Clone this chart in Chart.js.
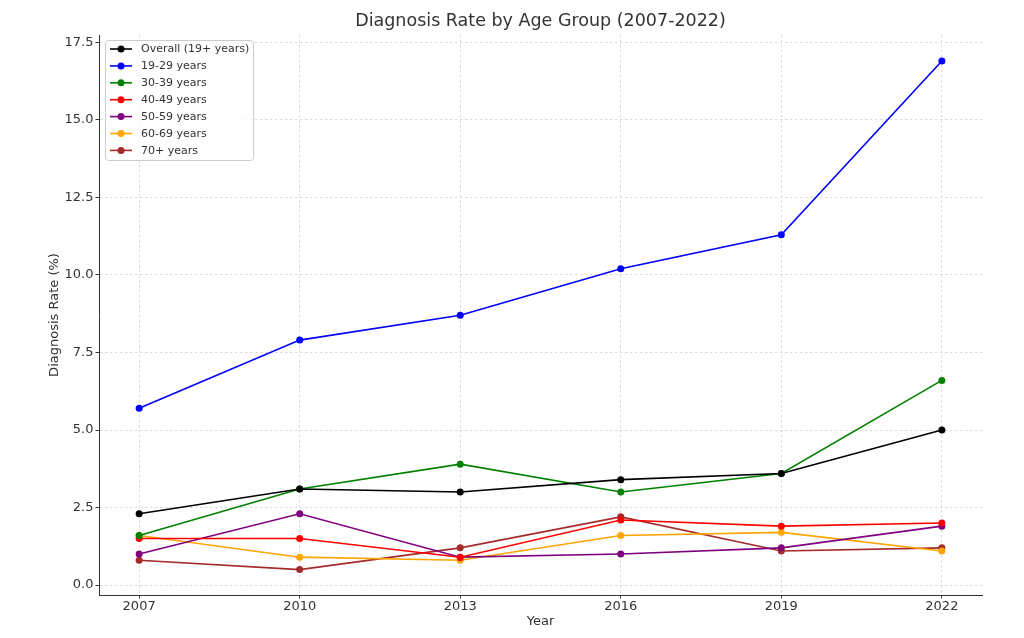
<!DOCTYPE html>
<html>
<head>
<meta charset="utf-8">
<script src="https://cdn.jsdelivr.net/npm/chart.js@4/dist/chart.umd.min.js"></script>
<style>
  html, body { margin: 0; padding: 0; background: #fff; }
  #wrap { width: 1024px; height: 638px; }
</style>
</head>
<body>
<div id="wrap"><canvas id="lineChart" width="1024" height="638"></canvas></div>
<script>
// data
var years = [2007, 2010, 2013, 2016, 2019, 2022];
var overall = [2.3, 3.1, 3.0, 3.4, 3.6, 5.0];
var age19to29 = [5.7, 7.9, 8.7, 10.2, 11.3, 16.9];
var age30to39 = [1.6, 3.1, 3.9, 3.0, 3.6, 6.6];
var age40to49 = [1.5, 1.5, 0.9, 2.1, 1.9, 2.0];
var age50to59 = [1.0, 2.3, 0.9, 1.0, 1.2, 1.9];
var age60to69 = [1.6, 0.9, 0.8, 1.6, 1.7, 1.1];
var age70plus = [0.8, 0.5, 1.2, 2.2, 1.1, 1.2];
var seriesNames = ['Overall (19+ years)', '19-29 years', '30-39 years', '40-49 years', '50-59 years', '60-69 years', '70+ years'];
var seriesColors = ['#000000', '#0000ff', '#008000', '#ff0000', '#800080', '#ffa500', '#a52a2a'];
var yTicks = [0.0, 2.5, 5.0, 7.5, 10.0, 12.5, 15.0, 17.5];

var FONT = "'DejaVu Sans', sans-serif";
var TXT = '#333333';

function makeSet(i, vals) {
  return {
    label: seriesNames[i],
    data: years.map(function(y, k) { return {x: y, y: vals[k]}; }),
    borderColor: seriesColors[i],
    backgroundColor: seriesColors[i],
    borderWidth: 1.6,
    pointRadius: 3.5,
    pointHoverRadius: 3.5,
    pointBorderWidth: 0,
    tension: 0
  };
}

var allSeries = [overall, age19to29, age30to39, age40to49, age50to59, age60to69, age70plus];

// title, axis labels and legend box drawn by hand, matplotlib style
var extras = {
  id: 'extras',
  afterDraw: function(chart) {
    var ctx = chart.ctx, a = chart.chartArea;
    ctx.save();
    ctx.fillStyle = TXT;
    ctx.textAlign = 'center';
    ctx.textBaseline = 'middle';
    ctx.font = '17.5px ' + FONT;
    ctx.fillText('Diagnosis Rate by Age Group (2007-2022)', (a.left + a.right) / 2, 21);
    ctx.font = '13px ' + FONT;
    ctx.fillText('Year', (a.left + a.right) / 2, 622);
    ctx.save();
    ctx.translate(55, (a.top + a.bottom) / 2);
    ctx.rotate(-Math.PI / 2);
    ctx.fillText('Diagnosis Rate (%)', 0, 0);
    ctx.restore();

    // legend
    var bx = a.left + 6, by = a.top + 5, bw = 148, bh = 120;
    ctx.fillStyle = 'rgba(255,255,255,0.8)';
    ctx.strokeStyle = '#cccccc';
    ctx.lineWidth = 1;
    ctx.beginPath();
    ctx.roundRect(bx + 0.5, by + 0.5, bw, bh, 3);
    ctx.fill();
    ctx.stroke();
    ctx.font = '11px ' + FONT;
    ctx.textAlign = 'left';
    for (var i = 0; i < seriesNames.length; i++) {
      var yy = by + 9 + i * 16.9;
      ctx.strokeStyle = seriesColors[i];
      ctx.lineWidth = 1.6;
      ctx.beginPath();
      ctx.moveTo(bx + 5, yy);
      ctx.lineTo(bx + 27, yy);
      ctx.stroke();
      ctx.fillStyle = seriesColors[i];
      ctx.beginPath();
      ctx.arc(bx + 16, yy, 3.5, 0, Math.PI * 2);
      ctx.fill();
      ctx.fillStyle = TXT;
      ctx.fillText(seriesNames[i], bx + 36, yy + 0.5);
    }
    ctx.restore();
  }
};

new Chart(document.getElementById('lineChart'), {
  type: 'line',
  data: {
    datasets: allSeries.map(function(v, i) { return makeSet(i, v); })
  },
  options: {
    responsive: false,
    animation: false,
    layout: { padding: { left: 0, right: 42, top: 35, bottom: 0 } },
    plugins: {
      legend: { display: false },
      title: { display: false },
      tooltip: { enabled: false }
    },
    scales: {
      x: {
        type: 'linear',
        min: 2006.25,
        max: 2022.75,
        afterFit: function(s) { s.height = 43; },
        afterBuildTicks: function(s) { s.ticks = years.map(function(y) { return {value: y}; }); },
        ticks: {
          color: TXT,
          font: { family: FONT, size: 13 },
          padding: 0,
          callback: function(v) { return String(v); }
        },
        grid: { color: '#dadada', tickColor: '#333333', tickLength: 3.5, tickBorderDash: [] },
        border: { display: true, color: '#333333', width: 1, dash: [2.5, 2.5] }
      },
      y: {
        type: 'linear',
        min: -0.32,
        max: 17.74,
        afterFit: function(s) { s.width = 99; },
        afterBuildTicks: function(s) { s.ticks = yTicks.map(function(v) { return {value: v}; }); },
        ticks: {
          color: TXT,
          font: { family: FONT, size: 13 },
          padding: 2,
          callback: function(v) { return v.toFixed(1); }
        },
        grid: { color: '#dadada', tickColor: '#333333', tickLength: 3.5, tickBorderDash: [] },
        border: { display: true, color: '#333333', width: 1, dash: [2.5, 2.5] }
      }
    }
  },
  plugins: [extras]
});
</script>
</body>
</html>
